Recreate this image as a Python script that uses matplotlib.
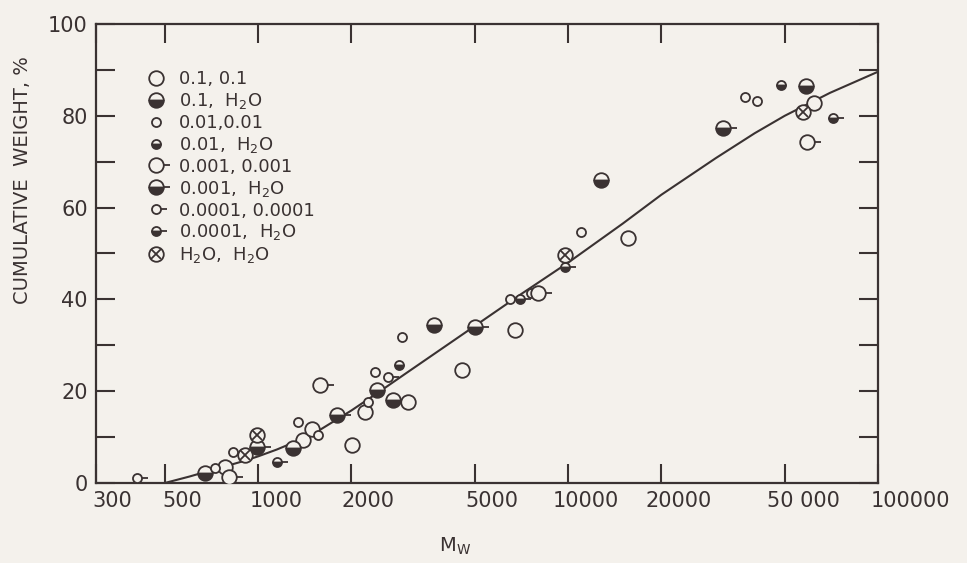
import matplotlib
matplotlib.use("Agg")
import matplotlib.pyplot as plt
from matplotlib.path import Path
from matplotlib.transforms import ScaledTranslation

ink = "#3a3232"
paper = "#f4f1ec"

# smooth curve
curve_mw = [500, 600, 700, 800, 900, 1000, 1150, 1300, 1500, 2000, 2500, 3000, 4000,
            5000, 7000, 10000, 13000, 15000, 20000, 25000, 30000, 40000, 50000,
            70000, 100000]
curve_pct = [0, 1.4, 2.7, 3.8, 4.8, 5.8, 7.3, 8.8, 10.6, 15.8, 20.2, 23.9, 29.7,
             34.2, 41.0, 48.0, 53.5, 56.5, 62.8, 67.2, 70.8, 76.2, 80.0,
             85.0, 89.6]

# point series (Mw, cumulative weight %)
o_01_mw = [782, 1394, 1490, 2006, 2210, 3040, 4540, 6740, 15600, 62000]
o_01_pct = [3.5, 9.4, 11.8, 8.3, 15.5, 17.6, 24.6, 33.3, 53.4, 82.8]

h_01_mw = [674, 1296, 2420, 2730, 3690, 12800, 58400]
h_01_pct = [2.2, 7.6, 20.3, 18.1, 34.4, 66.0, 86.5]

o_001_mw = [726, 830, 1342, 1560, 2260, 2380, 2910, 6490, 7620, 11000, 37200, 40600]
o_001_pct = [3.3, 6.8, 13.3, 10.5, 17.6, 24.2, 31.8, 40.1, 41.4, 54.7, 84.1, 83.2]

h_001_mw = [2850, 48800]
h_001_pct = [25.7, 86.7]

o_0001_mw = [806, 1583, 7980, 58800]
o_0001_pct = [1.3, 21.4, 41.4, 74.3]

h_0001_mw = [990, 1800, 5000, 31600]
h_0001_pct = [7.8, 14.8, 34.0, 77.3]

o_00001_mw = [407, 2630]
o_00001_pct = [1.1, 23.1]

h_00001_mw = [1152, 6990, 9750, 71400]
h_00001_pct = [4.6, 40.1, 47.1, 79.5]

water_mw = [909, 991, 9750, 57100]
water_pct = [6.1, 10.5, 49.7, 80.8]

labels = ["0.1, 0.1", r"0.1,  H$_\mathregular{2}$O", "0.01,0.01",
          r"0.01,  H$_\mathregular{2}$O", "0.001, 0.001", r"0.001,  H$_\mathregular{2}$O",
          "0.0001, 0.0001", r"0.0001,  H$_\mathregular{2}$O",
          r"H$_\mathregular{2}$O,  H$_\mathregular{2}$O"]

xticks = [300, 500, 1000, 2000, 5000, 10000, 20000, 50000, 100000]
xticklabels = ["300", "500", "1000", "2000", "5000", "10000", "20000", "50 000", "100000"]
xlabel_shift = [16, 17, 18, 17, 17, 18, 17, 19, 32]

BIG = 10.5
SMALL = 6.5
MEW = 1.3
TICK = 4.5


def tick_marker(d):
    r = d / 2.0
    return Path([(r / (r + TICK), 0), (1, 0)]), d + 2 * TICK


def draw(ax, mw, pct, size, filled, tick=False, cross=False):
    arts = []
    if filled:
        h, = ax.plot(mw, pct, ls="none", marker="o", ms=size, mew=MEW, mec=ink,
                     mfc=ink, fillstyle="bottom", markerfacecoloralt=paper, zorder=3)
    else:
        h, = ax.plot(mw, pct, ls="none", marker="o", ms=size, mew=MEW, mec=ink,
                     mfc=paper, zorder=3)
    arts.append(h)
    if tick:
        p, ms = tick_marker(size)
        t, = ax.plot(mw, pct, ls="none", marker=p, ms=ms, mew=MEW, mec=ink,
                     mfc="none", zorder=3)
        arts.append(t)
    if cross:
        c, = ax.plot(mw, pct, ls="none", marker="x", ms=size * 0.68, mew=MEW,
                     mec=ink, zorder=4)
        arts.append(c)
    return tuple(arts)


plt.rcParams["font.family"] = ["DejaVu Sans"]

fig = plt.figure(figsize=(9.67, 5.63), dpi=100, facecolor=paper)
ax = fig.add_axes([0.0993, 0.1421, 0.8087, 0.8153])
ax.set_facecolor(paper)

ax.plot(curve_mw, curve_pct, color=ink, lw=1.5, zorder=2)

handles = [
    draw(ax, o_01_mw, o_01_pct, BIG, False),
    draw(ax, h_01_mw, h_01_pct, BIG, True),
    draw(ax, o_001_mw, o_001_pct, SMALL, False),
    draw(ax, h_001_mw, h_001_pct, SMALL, True),
    draw(ax, o_0001_mw, o_0001_pct, BIG, False, tick=True),
    draw(ax, h_0001_mw, h_0001_pct, BIG, True, tick=True),
    draw(ax, o_00001_mw, o_00001_pct, SMALL, False, tick=True),
    draw(ax, h_00001_mw, h_00001_pct, SMALL, True, tick=True),
    draw(ax, water_mw, water_pct, BIG, False, cross=True),
]

ax.set_xscale("log")
ax.set_xlim(300, 100000)
ax.set_ylim(0, 100)
ax.set_xticks(xticks, xticklabels)
ax.minorticks_off()
ax.set_yticks([0, 20, 40, 60, 80, 100])
ax.set_yticks([10, 30, 50, 70, 90], minor=True)

for s in ax.spines.values():
    s.set_color(ink)
    s.set_linewidth(1.6)
ax.tick_params(which="both", direction="in", length=13.5, width=1.5, color=ink,
               top=True, right=True, labelcolor=ink, labelsize=15)
ax.tick_params(axis="x", pad=6)
ax.tick_params(axis="y", pad=6)

for t, dx in zip(ax.xaxis.get_major_ticks(), xlabel_shift):
    t.label1.set_transform(t.label1.get_transform() +
                           ScaledTranslation(dx / 100, 0, fig.dpi_scale_trans))

ax.set_ylabel("CUMULATIVE  WEIGHT, %", fontsize=14, color=ink)
ax.yaxis.set_label_coords(-0.082, 0.66)
ax.set_xlabel(r"M$_\mathregular{W}$", fontsize=14, color=ink)
ax.xaxis.set_label_coords(0.459, -0.115)

leg = ax.legend(handles, labels, loc="upper left", bbox_to_anchor=(0.052, 0.915),
                frameon=False, fontsize=13, handlelength=1.3, handletextpad=0.65,
                labelspacing=0.16, borderaxespad=0, labelcolor=ink)

fig.savefig("out.png", dpi=100, facecolor=paper)
